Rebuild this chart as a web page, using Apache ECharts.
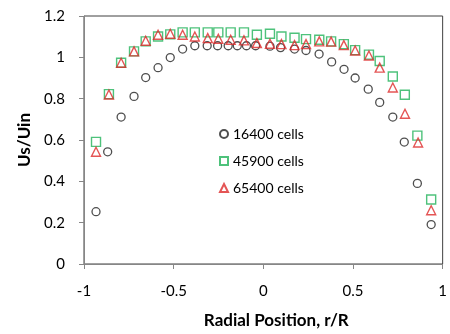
<!DOCTYPE html>
<html>
<head>
<meta charset="utf-8">
<script src="https://cdn.jsdelivr.net/npm/echarts@6/dist/echarts.min.js"></script>
<style>
  html, body { margin: 0; padding: 0; background: #fff; }
  #chart { width: 450px; height: 334px; }
</style>
</head>
<body>
<div id="chart"></div>
<script>
// values
const cells16400_x = [-0.933, -0.868, -0.793, -0.721, -0.656, -0.587, -0.519, -0.450, -0.382, -0.313, -0.255, -0.196, -0.145, -0.094, -0.043, 0.037, 0.096, 0.174, 0.238, 0.311, 0.381, 0.450, 0.512, 0.585, 0.649, 0.722, 0.786, 0.859, 0.936]
const cells16400_y = [0.253, 0.543, 0.711, 0.811, 0.902, 0.950, 0.999, 1.040, 1.056, 1.056, 1.056, 1.056, 1.056, 1.056, 1.056, 1.054, 1.047, 1.040, 1.033, 1.016, 0.978, 0.942, 0.900, 0.846, 0.782, 0.711, 0.590, 0.390, 0.191]

const cells45900_x = [-0.933, -0.861, -0.793, -0.721, -0.656, -0.587, -0.519, -0.450, -0.382, -0.310, -0.251, -0.182, -0.108, -0.036, 0.037, 0.101, 0.174, 0.238, 0.312, 0.378, 0.449, 0.512, 0.589, 0.649, 0.722, 0.789, 0.859, 0.936]
const cells45900_y = [0.591, 0.822, 0.974, 1.029, 1.077, 1.101, 1.111, 1.121, 1.121, 1.121, 1.121, 1.121, 1.121, 1.109, 1.114, 1.101, 1.095, 1.088, 1.085, 1.077, 1.064, 1.035, 1.013, 0.982, 0.907, 0.819, 0.621, 0.312]

const cells65400_x = [-0.933, -0.861, -0.793, -0.721, -0.656, -0.587, -0.519, -0.450, -0.382, -0.310, -0.251, -0.182, -0.108, -0.036, 0.037, 0.101, 0.174, 0.238, 0.312, 0.378, 0.449, 0.512, 0.589, 0.649, 0.722, 0.790, 0.863, 0.936]
const cells65400_y = [0.543, 0.820, 0.974, 1.029, 1.080, 1.109, 1.114, 1.109, 1.101, 1.093, 1.090, 1.085, 1.082, 1.069, 1.066, 1.064, 1.059, 1.064, 1.077, 1.076, 1.059, 1.033, 1.009, 0.950, 0.854, 0.727, 0.588, 0.260]

const xTicks = [-1, -0.5, 0, 0.5, 1]
const yTicks = [0, 0.2, 0.4, 0.6, 0.8, 1, 1.2]

function pairs(xs, ys) {
  return xs.map((x, i) => [x, ys[i]])
}

const chart = echarts.init(document.getElementById('chart'))
const font = 'Lato'

const option = {
  animation: false,
  textStyle: { fontFamily: font },
  grid: {
    left: 84, right: 1, top: 16, bottom: 67,
    show: true, borderColor: '#404040', borderWidth: 1
  },
  legend: {
    orient: 'vertical',
    left: 214, top: 122,
    itemWidth: 8, itemHeight: 8, itemGap: 13,
    textStyle: { fontFamily: font, fontSize: 14, color: '#000' },
    data: ['16400 cells', '45900 cells', '65400 cells']
  },
  xAxis: {
    type: 'value',
    min: xTicks[0], max: xTicks[xTicks.length - 1], interval: 0.5,
    name: 'Radial Position, r/R',
    nameLocation: 'middle', nameGap: 48,
    nameTextStyle: { fontFamily: font, fontSize: 17, fontWeight: 'bold', color: '#000', padding: [0, 0, 0, 26] },
    axisLine: { show: true, onZero: false, lineStyle: { color: '#868686' } },
    axisTick: { show: true, length: 5, lineStyle: { color: '#868686' } },
    axisLabel: { fontFamily: font, fontSize: 15, color: '#000', margin: 20 },
    splitLine: { show: false }
  },
  yAxis: {
    type: 'value',
    min: yTicks[0], max: yTicks[yTicks.length - 1], interval: 0.2,
    name: 'Us/Uin',
    nameLocation: 'middle', nameGap: 51, nameRotate: 90,
    nameTextStyle: { fontFamily: font, fontSize: 17, fontWeight: 'bold', color: '#000' },
    axisLine: { show: true, onZero: false, lineStyle: { color: '#868686' } },
    axisTick: { show: true, length: 5, lineStyle: { color: '#868686' } },
    axisLabel: { fontFamily: font, fontSize: 15, color: '#000', margin: 19 },
    splitLine: { show: false }
  },
  series: [
    {
      name: '16400 cells', type: 'scatter', symbol: 'circle', symbolSize: 8,
      itemStyle: { color: 'transparent', borderColor: '#222', borderWidth: 1.3 },
      data: pairs(cells16400_x, cells16400_y)
    },
    {
      name: '45900 cells', type: 'scatter', symbol: 'rect', symbolSize: 9,
      itemStyle: { color: 'transparent', borderColor: '#22b35a', borderWidth: 1.4 },
      data: pairs(cells45900_x, cells45900_y)
    },
    {
      name: '65400 cells', type: 'scatter', symbol: 'triangle', symbolSize: 9,
      itemStyle: { color: 'transparent', borderColor: '#dd2b2b', borderWidth: 1.4 },
      data: pairs(cells65400_x, cells65400_y)
    }
  ]
}

chart.setOption(option)
</script>
</body>
</html>
